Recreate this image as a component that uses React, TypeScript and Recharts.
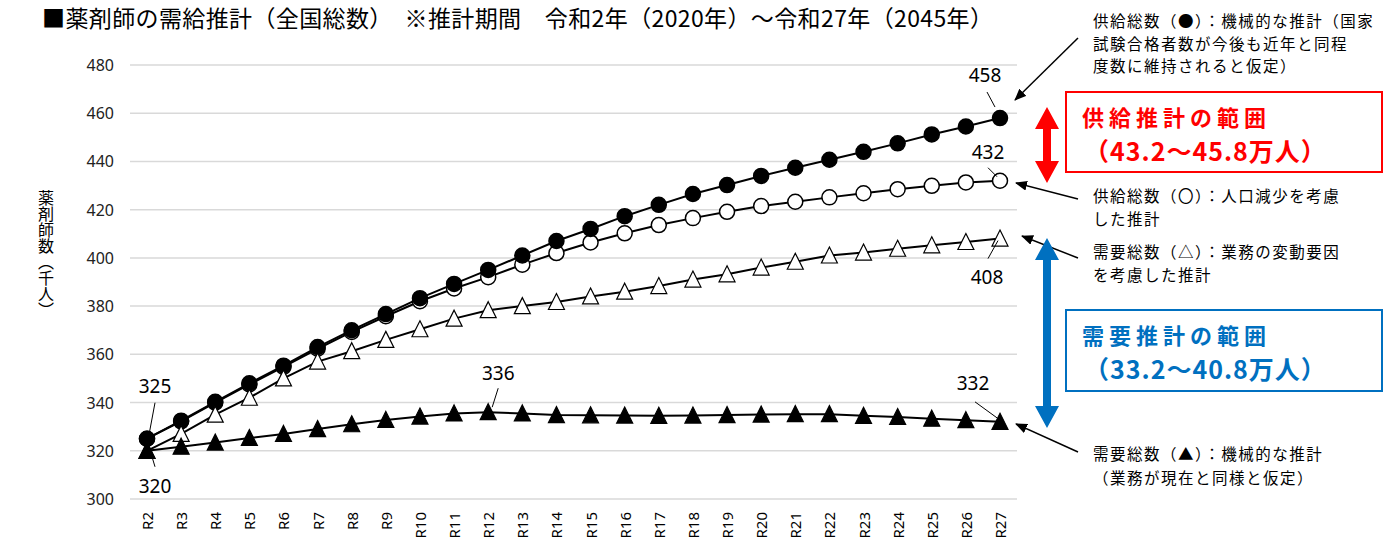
import { LineChart, Line, XAxis, YAxis, CartesianGrid, LabelList } from 'recharts'

const YEARS = ['R2', 'R3', 'R4', 'R5', 'R6', 'R7', 'R8', 'R9', 'R10', 'R11', 'R12', 'R13', 'R14', 'R15', 'R16', 'R17', 'R18', 'R19', 'R20', 'R21', 'R22', 'R23', 'R24', 'R25', 'R26', 'R27']

// 供給総数（●）機械的な推計
const SUPPLY_MECH = [325, 332.5, 340.3, 348, 355.3, 363, 370, 376.7, 383.3, 389.2, 395, 401, 407, 412, 417.3, 422, 426.5, 430.2, 434, 437.4, 440.7, 444, 447.5, 451.2, 454.5, 458]
// 供給総数（○）人口減少を考慮
const SUPPLY_POP = [325, 332.2, 340, 347.5, 354.8, 362.3, 369.3, 375.8, 382, 387.3, 392, 397.2, 402, 406.4, 410.2, 413.6, 416.5, 419.1, 421.5, 423.3, 425.1, 426.8, 428.5, 429.9, 431.3, 432]
// 需要総数（△）業務の変動要因を考慮
const DEMAND_VAR = [320, 327, 335, 342, 350, 357, 361.3, 366, 370.4, 374.8, 378.3, 380, 381.7, 384, 386, 388.3, 391, 393.2, 396, 398.4, 401, 402.2, 403.8, 405.2, 406.6, 408]
// 需要総数（▲）機械的な推計
const DEMAND_MECH = [320, 321.7, 323.4, 325.3, 327, 329, 331, 332.8, 334.2, 335.5, 336, 335.5, 334.8, 334.7, 334.6, 334.5, 334.6, 334.8, 335, 335.2, 335.2, 334.5, 334, 333.3, 332.7, 332]

const Y_TICKS = [300, 320, 340, 360, 380, 400, 420, 440, 460, 480]

const data = YEARS.map((year, i) => ({
    year,
    supplyMech: SUPPLY_MECH[i],
    supplyPop: SUPPLY_POP[i],
    demandVar: DEMAND_VAR[i],
    demandMech: DEMAND_MECH[i],
}))

const FONT = '"Noto Sans CJK JP", "Noto Sans", sans-serif'

type Callout = { dx: number; dy: number; line: [number, number, number, number] }

const renderCallouts = (callouts: Record<number, Callout>) => (props: any) => {
    const { x, y, value, index } = props
    const c = callouts[index]
    if (!c || x == null || y == null) return null
    return (
        <g key={`c-${index}`}>
            <line x1={x + c.line[0]} y1={y + c.line[1]} x2={x + c.line[2]} y2={y + c.line[3]} stroke="#000" strokeWidth={1} />
            <text x={x + c.dx} y={y + c.dy} textAnchor="middle" dominantBaseline="central" fontSize={19} fontFamily='"Noto Sans", sans-serif' fill="#000">
                {Math.round(Number(value))}
            </text>
        </g>
    )
}

const circleDot = (filled: boolean) => (p: any) => (
    <circle key={`d-${p.index}`} cx={p.cx} cy={p.cy} r={7.5} fill={filled ? '#000' : '#fff'} stroke="#000" strokeWidth={1.5} />
)

const triangleDot = (filled: boolean) => (p: any) => (
    <path
        key={`t-${p.index}`}
        d={`M${p.cx},${p.cy - 8.5} L${p.cx + 8},${p.cy + 7.5} L${p.cx - 8},${p.cy + 7.5} Z`}
        fill={filled ? '#000' : '#fff'}
        stroke="#000"
        strokeWidth={1.2}
    />
)

const XTick = ({ x, payload }: any) => (
    <text x={x} y={512} transform={`rotate(-90 ${x} 512)`} textAnchor="end" dominantBaseline="central" fontSize={15} fontFamily='"Noto Sans", sans-serif' fill="#000">
        {payload.value}
    </text>
)

const YTick = ({ y, payload }: any) => (
    <text x={114} y={y} textAnchor="end" dominantBaseline="central" fontSize={16} fontFamily='"Noto Sans", sans-serif' fill="#222">
        {payload.value}
    </text>
)

const doubleArrow = (x: number, top: number, bottom: number) => {
    const hw = 12, sw = 4, hh = 22
    return [
        [x, top], [x + hw, top + hh], [x + sw, top + hh], [x + sw, bottom - hh], [x + hw, bottom - hh],
        [x, bottom], [x - hw, bottom - hh], [x - sw, bottom - hh], [x - sw, top + hh], [x - hw, top + hh],
    ].map((pt) => pt.join(',')).join(' ')
}

const NOTE = { fontSize: 15.5, letterSpacing: 1.5, fontFamily: FONT, fill: '#000' }
const RANGE_HEAD = { fontSize: 22, letterSpacing: 5, fontWeight: 700, fontFamily: FONT }
const RANGE_SUB = { fontSize: 25, letterSpacing: 1, fontWeight: 700, fontFamily: FONT }

export default function App() {
    return (
        <div style={{ position: 'absolute', left: 0, top: 0, width: 1400, height: 542, background: '#fff', fontFamily: FONT }}>
            <LineChart width={1400} height={542} data={data} margin={{ top: 65, right: 383, bottom: 0, left: 70 }}>
                <CartesianGrid vertical={false} stroke="#d9d9d9" strokeWidth={1.5} />
                <XAxis dataKey="year" height={43} padding={{ left: 17, right: 17 }} axisLine={false} tickLine={false} interval={0} tick={<XTick />} />
                <YAxis width={60} domain={[300, 480]} ticks={Y_TICKS} axisLine={false} tickLine={false} tick={<YTick />} />
                <Line dataKey="supplyPop" stroke="#000" strokeWidth={2} dot={circleDot(false)} isAnimationActive={false}>
                    <LabelList dataKey="supplyPop" content={renderCallouts({ 25: { dx: -12, dy: -29, line: [-12, -13, -3, -4] } })} />
                </Line>
                <Line dataKey="supplyMech" stroke="#000" strokeWidth={2} dot={circleDot(true)} isAnimationActive={false}>
                    <LabelList
                        dataKey="supplyMech"
                        content={renderCallouts({
                            0: { dx: 8, dy: -53, line: [8, -36, 2, -4] },
                            25: { dx: -15, dy: -43, line: [-13, -26, -5, -11] },
                        })}
                    />
                </Line>
                <Line dataKey="demandVar" stroke="#000" strokeWidth={2} dot={triangleDot(false)} isAnimationActive={false}>
                    <LabelList dataKey="demandVar" content={renderCallouts({ 25: { dx: -13, dy: 38, line: [-12, 20, -2, 2] } })} />
                </Line>
                <Line dataKey="demandMech" stroke="#000" strokeWidth={2} dot={triangleDot(true)} isAnimationActive={false}>
                    <LabelList
                        dataKey="demandMech"
                        content={renderCallouts({
                            0: { dx: 8, dy: 35, line: [5, 6, 8, 16] },
                            10: { dx: 10, dy: -39, line: [10, -24, 4, -5] },
                            25: { dx: -27, dy: -39, line: [-25, -20, -3, -4] },
                        })}
                    />
                </Line>
            </LineChart>

            <div style={{ position: 'absolute', left: 37, top: 190, writingMode: 'vertical-rl', fontSize: 16, lineHeight: '18px', fontFamily: FONT, color: '#000' }}>
                薬剤師数（千人）
            </div>

            <svg width={1400} height={542} style={{ position: 'absolute', left: 0, top: 0, pointerEvents: 'none' }}>
                <defs>
                    <marker id="ah" markerWidth={12} markerHeight={10} refX={11} refY={5} orient="auto" markerUnits="userSpaceOnUse">
                        <path d="M0,0 L12,5 L0,10 Z" fill="#000" />
                    </marker>
                </defs>

                <text x={42} y={17} dominantBaseline="central" fontSize={23} fontFamily={FONT} fill="#000" textLength={951} lengthAdjust="spacing">
                    ■薬剤師の需給推計（全国総数）　※推計期間　令和2年（2020年）～令和27年（2045年）
                </text>

                <text x={1093} y={20} dominantBaseline="central" {...NOTE}>供給総数（●）：機械的な推計（国家</text>
                <text x={1093} y={42.5} dominantBaseline="central" {...NOTE}>試験合格者数が今後も近年と同程</text>
                <text x={1093} y={65} dominantBaseline="central" {...NOTE}>度数に維持されると仮定）</text>
                <line x1={1078} y1={38} x2={1015} y2={100} stroke="#000" strokeWidth={1.5} markerEnd="url(#ah)" />

                <rect x={1066} y={92} width={316} height={80} fill="none" stroke="#ff0000" strokeWidth={2} />
                <text x={1082} y={115.5} dominantBaseline="central" fill="#ff0000" {...RANGE_HEAD}>供給推計の範囲</text>
                <text x={1084} y={150} dominantBaseline="central" fill="#ff0000" {...RANGE_SUB}>（43.2～45.8万人）</text>
                <polygon points={doubleArrow(1047, 107, 183)} fill="#ff0000" />

                <text x={1093} y={195} dominantBaseline="central" {...NOTE}>供給総数（〇）：人口減少を考慮</text>
                <text x={1093} y={217.5} dominantBaseline="central" {...NOTE}>した推計</text>
                <line x1={1078} y1={199} x2={1016} y2={183} stroke="#000" strokeWidth={1.5} markerEnd="url(#ah)" />

                <text x={1093} y={251} dominantBaseline="central" {...NOTE}>需要総数（△）：業務の変動要因</text>
                <text x={1093} y={274} dominantBaseline="central" {...NOTE}>を考慮した推計</text>
                <line x1={1078} y1={258} x2={1022} y2={236} stroke="#000" strokeWidth={1.5} markerEnd="url(#ah)" />

                <rect x={1066} y={310} width={316} height={81} fill="none" stroke="#0070c0" strokeWidth={2} />
                <text x={1082} y={333.5} dominantBaseline="central" fill="#0070c0" {...RANGE_HEAD}>需要推計の範囲</text>
                <text x={1084} y={368} dominantBaseline="central" fill="#0070c0" {...RANGE_SUB}>（33.2～40.8万人）</text>
                <polygon points={doubleArrow(1047, 238, 428)} fill="#0070c0" />

                <text x={1093} y={453} dominantBaseline="central" {...NOTE}>需要総数（▲）：機械的な推計</text>
                <text x={1093} y={477} dominantBaseline="central" {...NOTE}>（業務が現在と同様と仮定）</text>
                <line x1={1078} y1={452} x2={1016} y2={424} stroke="#000" strokeWidth={1.5} markerEnd="url(#ah)" />
            </svg>
        </div>
    )
}
